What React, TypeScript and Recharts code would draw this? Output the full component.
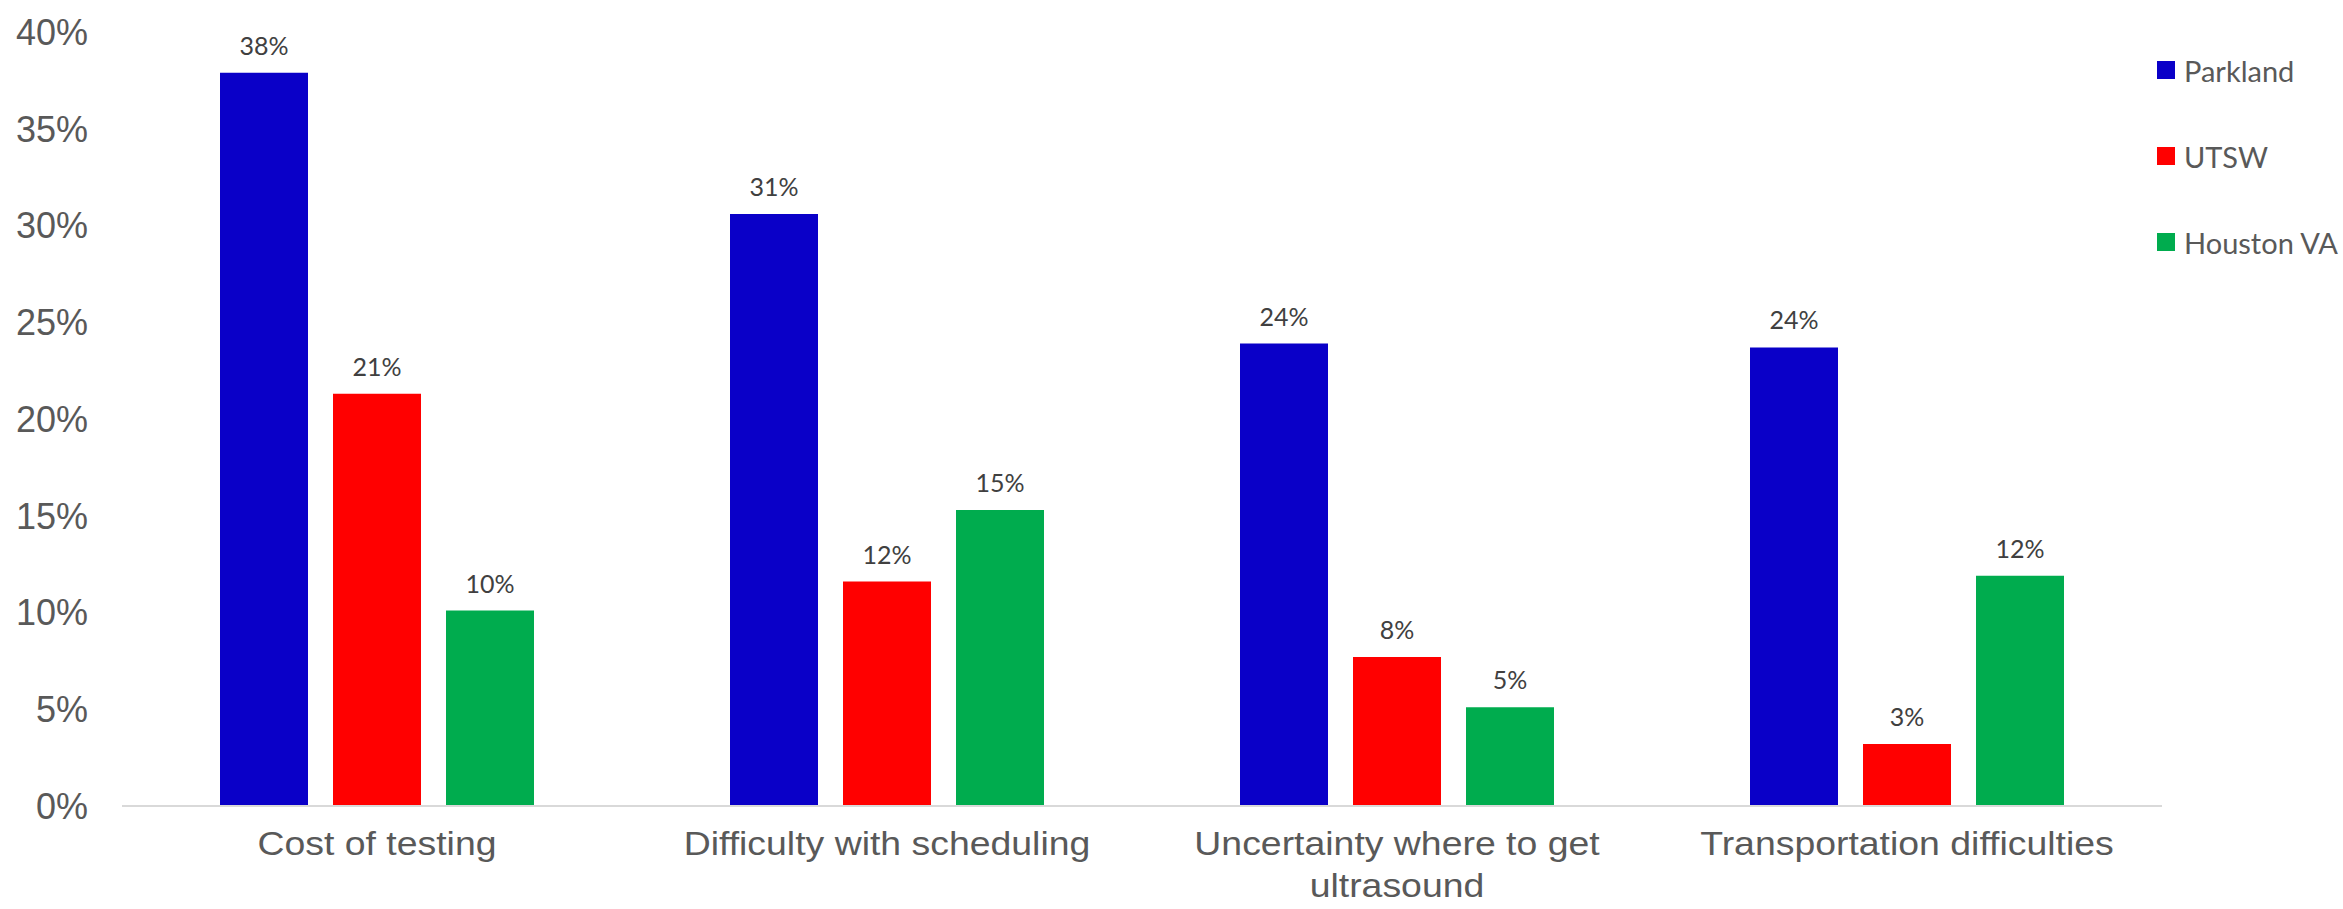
import React from 'react';
import { BarChart, Bar, XAxis, YAxis, Legend, LabelList } from 'recharts';

// Reported barriers to ultrasound surveillance, share of respondents (%) by site
const categories = [
  'Cost of testing',
  'Difficulty with scheduling',
  'Uncertainty where to get ultrasound',
  'Transportation difficulties',
];
const parkland = [37.9, 30.6, 23.9, 23.7];
const utsw = [21.3, 11.6, 7.7, 3.2];
const houstonVA = [10.1, 15.3, 5.1, 11.9];
const yTicks = [0, 5, 10, 15, 20, 25, 30, 35, 40];

const seriesDefs = [
  { key: 'parkland', name: 'Parkland', color: '#0A00C8' },
  { key: 'utsw', name: 'UTSW', color: '#FF0000' },
  { key: 'houstonVA', name: 'Houston VA', color: '#00AC4E' },
];

const data = categories.map((category, i) => ({
  category,
  parkland: parkland[i],
  utsw: utsw[i],
  houstonVA: houstonVA[i],
}));

const AXIS_FONT = '"Liberation Sans", Arial, sans-serif';
const LABEL_FONT = 'Lato, "Open Sans", sans-serif';
const CATEGORY_FONT_SIZE = 34;
const CATEGORY_STRETCH = 1.1; // wide sans for the category names
const CATEGORY_WRAP_WIDTH = 470;
const CATEGORY_LINE_HEIGHT = 42;

// Greedy word wrap using canvas text metrics
let measureCtx: CanvasRenderingContext2D | null = null;
function wrapWords(text: string, maxWidth: number): string[] {
  if (!measureCtx && typeof document !== 'undefined') {
    measureCtx = document.createElement('canvas').getContext('2d');
  }
  const measure = (s: string) => {
    const base = measureCtx
      ? (() => {
          measureCtx!.font = `${CATEGORY_FONT_SIZE}px ${AXIS_FONT}`;
          return measureCtx!.measureText(s).width;
        })()
      : s.length * CATEGORY_FONT_SIZE * 0.5;
    return base * CATEGORY_STRETCH;
  };
  const words = text.split(' ');
  const lines: string[] = [];
  let current = '';
  words.forEach((w) => {
    const trial = current ? `${current} ${w}` : w;
    if (current && measure(trial) > maxWidth) {
      lines.push(current);
      current = w;
    } else {
      current = trial;
    }
  });
  if (current) lines.push(current);
  return lines;
}

const CategoryTick = (props: any) => {
  const { x, y, payload } = props;
  const lines = wrapWords(String(payload.value), CATEGORY_WRAP_WIDTH);
  return (
    <g transform={`translate(${x},0) scale(${CATEGORY_STRETCH},1) translate(${-x},0)`}>
      <text
        x={x}
        y={y}
        textAnchor="middle"
        fill="#595959"
        style={{ fontSize: CATEGORY_FONT_SIZE, fontFamily: AXIS_FONT }}
      >
        {lines.map((line, i) => (
          <tspan key={i} x={x} dy={i === 0 ? '0.71em' : CATEGORY_LINE_HEIGHT}>
            {line}
          </tspan>
        ))}
      </text>
    </g>
  );
};

const LegendContent = (props: any) => {
  const { payload } = props;
  const ordered = seriesDefs
    .map((s) => (payload || []).find((p: any) => p.value === s.name))
    .filter(Boolean);
  return (
    <div>
      {ordered.map((entry: any) => (
        <div
          key={entry.value}
          style={{ height: 86, display: 'flex', alignItems: 'center' }}
        >
          <span
            style={{
              display: 'inline-block',
              width: 18,
              height: 18,
              background: entry.color,
              marginRight: 9,
            }}
          />
          <span
            style={{
              fontFamily: LABEL_FONT,
              fontSize: 29,
              color: '#595959',
              whiteSpace: 'nowrap',
            }}
          >
            {entry.value}
          </span>
        </div>
      ))}
    </div>
  );
};

const formatPct = (v: any) => `${Math.round(Number(v))}%`;

export default function App() {
  return (
    <div style={{ position: 'absolute', left: 0, top: 0, background: '#fff' }}>
      <BarChart
        width={2343}
        height={909}
        data={data}
        margin={{ top: 32, right: 181, bottom: 13, left: 0 }}
        barGap={25}
      >
        <XAxis
          dataKey="category"
          height={90}
          tickLine={false}
          tickSize={0}
          tickMargin={25}
          axisLine={{ stroke: '#D9D9D9', strokeWidth: 2 }}
          tick={<CategoryTick />}
          interval={0}
        />
        <YAxis
          width={122}
          domain={[0, 40]}
          ticks={yTicks}
          tickFormatter={(v: number) => `${v}%`}
          axisLine={false}
          tickLine={false}
          tickSize={0}
          tickMargin={34}
          tick={{ fill: '#595959', fontSize: 36, fontFamily: AXIS_FONT }}
        />
        <Legend
          layout="vertical"
          align="center"
          verticalAlign="middle"
          itemSorter={null as any}
          content={<LegendContent />}
          wrapperStyle={{ left: 2157, top: 27, width: 186, height: 'auto' }}
        />
        {seriesDefs.map((s) => (
          <Bar
            key={s.key}
            dataKey={s.key}
            name={s.name}
            fill={s.color}
            barSize={88}
            isAnimationActive={false}
          >
            <LabelList
              dataKey={s.key}
              position="top"
              offset={18}
              formatter={formatPct}
              fill="#404040"
              fontSize={25}
              fontFamily={LABEL_FONT}
            />
          </Bar>
        ))}
      </BarChart>
    </div>
  );
}
